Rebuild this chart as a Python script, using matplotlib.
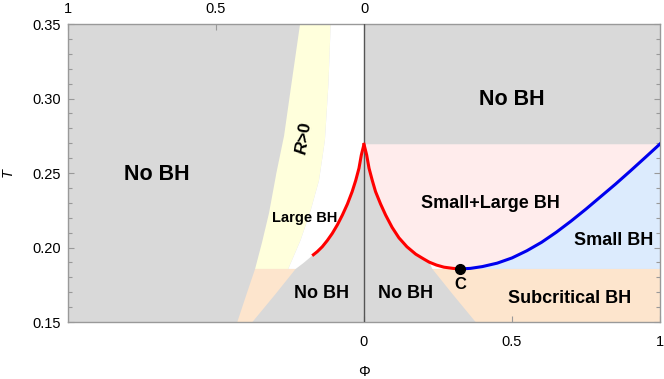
import numpy as np
import matplotlib
matplotlib.use("Agg")
import matplotlib.pyplot as plt

plt.rcParams['font.family'] = ['Liberation Sans', 'DejaVu Sans']
plt.rcParams['mathtext.fontset'] = 'custom'
plt.rcParams['mathtext.it'] = 'Liberation Sans:italic:bold'
plt.rcParams['mathtext.rm'] = 'Liberation Sans:bold'

# --- values ---
T_min, T_max = 0.15, 0.35
T_c = 0.1856          # critical temperature
phi_c = 0.323         # critical point C
T_cusp = 0.2693       # cusp / top of coexistence region

# R>0 band, outer (gray/yellow) edge
outer_phi = [-0.216, -0.245, -0.270, -0.296, -0.321, -0.345, -0.368, -0.398, -0.428]
outer_T = [0.35, 0.31, 0.275, 0.25, 0.223, 0.203, 0.1856, 0.168, 0.15]
# R>0 band, inner (yellow/white) edge
inner_phi = [-0.1125, -0.12, -0.132, -0.152, -0.18, -0.214, -0.256]
inner_T = [0.35, 0.31, 0.272, 0.245, 0.225, 0.205, 0.1856]
# white/gray edge below "Large BH"
gap_phi = [-0.231, -0.205, -0.175]
gap_T = [0.1856, 0.1895, 0.1945]
# gray/subcritical diagonal edge (right side, mirrored on the left)
diag_phi = [0.231, 0.30, 0.377]
diag_T = [0.1856, 0.1685, 0.15]

# red curves
red_left_phi = [-0.175, -0.158, -0.141, -0.124, -0.107, -0.09, -0.073, -0.056, -0.04, -0.028, -0.017, -0.009, 0.0]
red_left_T = [0.1945, 0.1972, 0.2005, 0.2047, 0.2095, 0.2152, 0.2218, 0.2292, 0.2375, 0.2450, 0.2532, 0.2621, 0.2693]
red_right_phi = [0.0, 0.009, 0.017, 0.028, 0.039, 0.056, 0.073, 0.095, 0.118, 0.145, 0.175, 0.20, 0.22, 0.245, 0.27, 0.30, 0.323]
red_right_T = [0.2693, 0.2621, 0.2532, 0.2450, 0.2375, 0.2292, 0.2218, 0.2135, 0.2065, 0.2005, 0.1955, 0.1925, 0.1902, 0.1882, 0.1868, 0.1860, 0.1856]
# blue curve
blue_phi = [0.323, 0.36, 0.40, 0.45, 0.50, 0.55, 0.60, 0.65, 0.70, 0.75, 0.80, 0.85, 0.90, 0.95, 1.0]
blue_T = [0.1856, 0.1860, 0.1872, 0.1895, 0.1930, 0.1978, 0.2035, 0.2103, 0.2178, 0.2258, 0.2342, 0.2426, 0.2514, 0.2604, 0.2695]

gray = '#d9d9d9'
yellow = '#ffffdc'
pink = '#ffecec'
lblue = '#dcebfd'
orange = '#fde5cd'

fig = plt.figure(figsize=(6.64, 3.79), dpi=100)
ax = fig.add_axes([68 / 664, 57 / 379, 592 / 664, 298 / 379])
ax.set_facecolor(gray)

# yellow R>0 band (above T_c)
up_o = [i for i, t in enumerate(outer_T) if t >= T_c]
ax.fill([outer_phi[i] for i in up_o] + inner_phi[::-1],
        [outer_T[i] for i in up_o] + inner_T[::-1], color=yellow, lw=0)

# white "Large BH" region
wx = inner_phi + gap_phi + red_left_phi + [0.0]
wy = inner_T + gap_T + red_left_T + [T_max]
ax.fill(wx, wy, color='white', lw=0)

# subcritical region, left
lo_o = [i for i, t in enumerate(outer_T) if t <= T_c]
ax.fill([outer_phi[i] for i in lo_o] + [-p for p in diag_phi[::-1]],
        [outer_T[i] for i in lo_o] + diag_T[::-1], color=orange, lw=0)

# coexistence region (pink)
ax.fill(red_right_phi + blue_phi[1:] + [1.0, 0.0],
        red_right_T + blue_T[1:] + [T_cusp, T_cusp], color=pink, lw=0)

# small BH (light blue)
ax.fill(blue_phi + [1.0], blue_T + [T_c], color=lblue, lw=0)

# subcritical region, right
ax.fill(diag_phi + [1.0, 1.0], diag_T + [T_min, T_c], color=orange, lw=0)

# thin white sliver between diagonal and red curve
sl = [i for i, p in enumerate(red_right_phi) if p >= 0.22]
ax.fill([red_right_phi[i] for i in sl] + [diag_phi[0]],
        [red_right_T[i] for i in sl] + [T_c], color='white', lw=0)

ax.axvline(0, color='#555555', lw=1.0, zorder=3)

ax.plot(red_left_phi, red_left_T, color='#ff0000', lw=2.2, zorder=4, solid_capstyle='butt')
ax.plot(red_right_phi, red_right_T, color='#ff0000', lw=2.2, zorder=4)
ax.plot(blue_phi, blue_T, color='#0000ee', lw=2.2, zorder=4)
ax.plot([phi_c], [T_c], 'o', color='black', ms=7, zorder=5)

# labels
bold = dict(fontweight='bold', ha='center', va='center', color='black')
ax.text(-0.699, 0.2493, 'No BH', fontsize=15.5, **bold)
ax.text(0.499, 0.2995, 'No BH', fontsize=15.5, **bold)
ax.text(-0.203, 0.2735, '$R$>0', fontsize=12.5, rotation=81, **bold)
ax.text(-0.199, 0.2196, 'Large BH', fontsize=10.5, **bold)
ax.text(0.426, 0.2292, 'Small+Large BH', fontsize=13, **bold)
ax.text(0.845, 0.2044, 'Small BH', fontsize=13, **bold)
ax.text(0.695, 0.1659, 'Subcritical BH', fontsize=13, **bold)
ax.text(-0.142, 0.1693, 'No BH', fontsize=13, **bold)
ax.text(0.141, 0.1693, 'No BH', fontsize=13, **bold)
ax.text(0.324, 0.1755, 'C', fontsize=12, **bold)

ax.set_xlim(-1, 1)
ax.set_ylim(T_min, T_max)

spine_col = '#999999'
for s in ax.spines.values():
    s.set_color(spine_col)
    s.set_linewidth(1.0)

ax.set_yticks([0.15, 0.20, 0.25, 0.30, 0.35])
ax.set_yticklabels(['0.15', '0.20', '0.25', '0.30', '0.35'])
ax.set_yticks(np.arange(0.15, 0.3501, 0.01), minor=True)
ax.set_xticks([0, 0.5, 1])
ax.set_xticklabels(['0', '0.5', '1'])
ax.tick_params(axis='both', which='both', direction='in', color=spine_col,
               labelsize=10.5, right=True, top=False)
ax.tick_params(axis='both', which='major', length=4.5, width=0.8)
ax.tick_params(axis='both', which='minor', length=2.8, width=0.8)
ax.tick_params(axis='x', which='major', pad=9)
ax.tick_params(axis='y', which='major', pad=5)

top = ax.secondary_xaxis('top')
top.set_xticks([-1, -0.5, 0])
top.set_xticklabels(['1', '0.5', '0'])
top.tick_params(direction='in', color=spine_col, length=4.5, width=0.8, labelsize=10.5, pad=6)
top.spines['top'].set_visible(False)

ax.set_xlabel('Φ', fontsize=10.5)
ax.set_ylabel('T', fontsize=10.5, fontstyle='italic')
ax.xaxis.set_label_coords(0.5, -0.145)
ax.yaxis.set_label_coords(-0.09, 0.5)

fig.savefig('out.png', dpi=100)
